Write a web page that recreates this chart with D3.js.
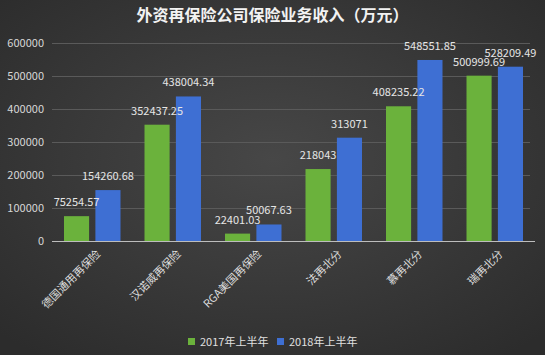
<!DOCTYPE html>
<html><head><meta charset="utf-8">
<script src="https://cdn.jsdelivr.net/npm/d3@7"></script>
<style>html,body{margin:0;padding:0;background:#333;}svg{display:block;}</style>
</head><body>
<script>
const categories = ["德国通用再保险","汉诺威再保险","RGA美国再保险","法再北分","慕再北分","瑞再北分"];
const series2017 = [75254.57,352437.25,22401.03,218043,408235.22,500999.69];
const series2018 = [154260.68,438004.34,50067.63,313071,548551.85,528209.49];
const seriesNames = ["2017年上半年","2018年上半年"];
const yTicks = [0,100000,200000,300000,400000,500000,600000];
const title = "外资再保险公司保险业务收入（万元）";

const W=545,H=355;
const colors=["#6bb23c","#3e6fd3"];
const font='"Noto Sans CJK SC","Noto Sans",sans-serif';
const svg=d3.select("body").append("svg").attr("width",W).attr("height",H);
const defs=svg.append("defs");
const rg=defs.append("radialGradient").attr("id","bg").attr("cx","50%").attr("cy","45%").attr("r","70%");
rg.append("stop").attr("offset","0%").attr("stop-color","#474747");
rg.append("stop").attr("offset","100%").attr("stop-color","#2c2c2c");
svg.append("rect").attr("width",W).attr("height",H).attr("fill","url(#bg)");

const x0=d3.scaleBand().domain(categories).range([52,535]).paddingInner(0).paddingOuter(0);
const x1=d3.scaleBand().domain([0,1]).range([12,x0.bandwidth()-12]).paddingInner(0.2);
const y=d3.scaleLinear().domain([0,600000]).range([241,43]);

svg.append("text").attr("x",W/2).attr("y",21).attr("text-anchor","middle")
 .attr("fill","#f2f2f2").attr("font-size",16).attr("font-weight","bold").attr("font-family",font).text(title);

// grid
svg.append("g").selectAll("line").data(yTicks.slice(1)).join("line")
 .attr("x1",52).attr("x2",530).attr("y1",d=>y(d)+0.5).attr("y2",d=>y(d)+0.5)
 .attr("stroke","#5a5a5a").attr("stroke-width",1);
// y axis labels
const ya=svg.append("g").attr("transform","translate(44,0)").call(d3.axisLeft(y).tickValues(yTicks).tickSize(0).tickPadding(0).tickFormat(d3.format("d")));
ya.select(".domain").remove();
ya.selectAll("text").attr("fill","#d8d8d8").attr("font-size",11).attr("font-family",font);

const data=categories.map((c,i)=>({c,v:[series2017[i],series2018[i]]}));
const g=svg.append("g").selectAll("g").data(data).join("g").attr("transform",d=>`translate(${x0(d.c)},0)`);
g.selectAll("rect").data(d=>d.v).join("rect")
 .attr("x",(d,i)=>x1(i)).attr("width",x1.bandwidth())
 .attr("y",d=>y(d)).attr("height",d=>y(0)-y(d)).attr("fill",(d,i)=>colors[i]);
g.selectAll("text").data(d=>d.v).join("text")
 .attr("x",(d,i)=>x1(i)+x1.bandwidth()/2).attr("y",d=>y(d)-10)
 .attr("text-anchor","middle").attr("fill","#e6e6e6").attr("font-size",11).attr("font-family",font)
 .text(d=>String(d));

// baseline
svg.append("line").attr("x1",52).attr("x2",535).attr("y1",y(0)+0.5).attr("y2",y(0)+0.5).attr("stroke","#bdbdbd").attr("stroke-width",1);

// x labels
svg.append("g").selectAll("text").data(categories).join("text")
 .attr("transform",d=>`translate(${x0(d)+x0.bandwidth()/2+6},252) rotate(-45)`)
 .attr("text-anchor","end").attr("dy","0.35em").attr("fill","#dcdcdc").attr("font-size",11).attr("font-family",font)
 .text(d=>d);

// legend
const lg=svg.append("g");
const lx=[188,277];
seriesNames.forEach((n,i)=>{
 lg.append("rect").attr("x",lx[i]).attr("y",338).attr("width",7).attr("height",7).attr("fill",colors[i]);
 lg.append("text").attr("x",lx[i]+12).attr("y",345.5).attr("fill","#e0e0e0").attr("font-size",11).attr("font-family",font).text(n);
});
</script>
</body></html>
